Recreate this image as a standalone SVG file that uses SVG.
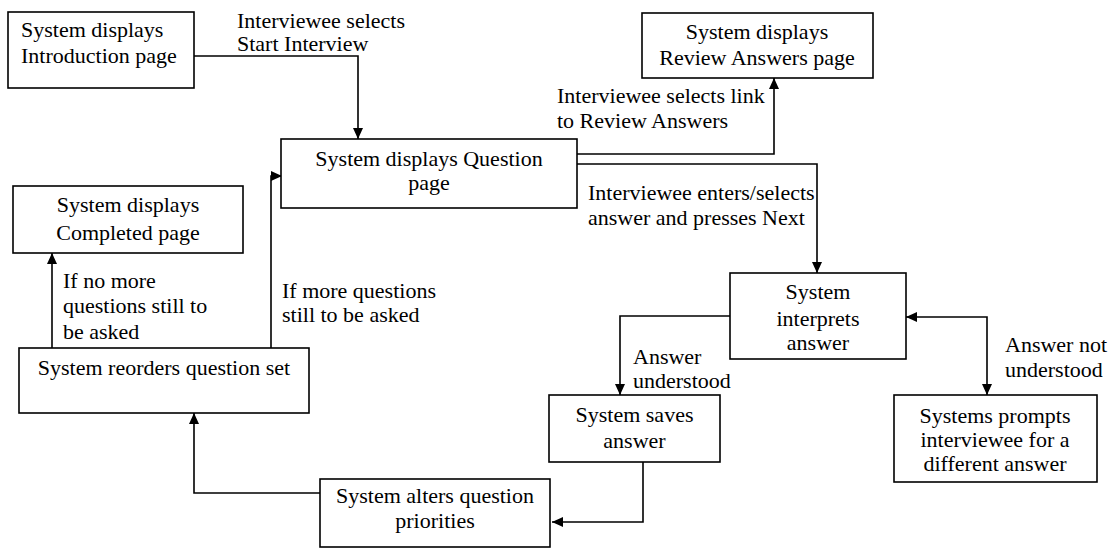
<svg xmlns="http://www.w3.org/2000/svg" width="1117" height="548" viewBox="0 0 1117 548">
<style>
.box{fill:#fff;stroke:#000;stroke-width:1.6}
.ln{fill:none;stroke:#000;stroke-width:1.6;marker-end:url(#ah)}
.ln2{fill:none;stroke:#000;stroke-width:1.6;marker-start:url(#ahs);marker-end:url(#ah)}
text{font-family:"Liberation Serif","Times New Roman",serif;font-size:22px;fill:#000}
.c{text-anchor:middle}
</style>
<defs>
<marker id="ah" markerUnits="userSpaceOnUse" markerWidth="12" markerHeight="12" viewBox="0 0 12 12" refX="11" refY="6" orient="auto">
<path d="M0,1 L11,6 L0,11 Z" fill="#000"/>
</marker>
<marker id="ahs" markerUnits="userSpaceOnUse" markerWidth="12" markerHeight="12" viewBox="0 0 12 12" refX="1" refY="6" orient="auto">
<path d="M12,1 L1,6 L12,11 Z" fill="#000"/>
</marker>
</defs>
<rect width="1117" height="548" fill="#fff"/>
<g id="connectors">
<path class="ln" d="M194,56 H358 V139"/>
<path class="ln" d="M577,154 H774 V78"/>
<path class="ln" d="M577,164 H817 V273"/>
<path class="ln" d="M730,316 H620 V395"/>
<path class="ln2" d="M906,317 H987 V395"/>
<path class="ln" d="M643,462 V522 H552"/>
<path class="ln" d="M320,493 H194 V413"/>
<path class="ln" d="M52,348 V253"/>
<path class="ln" d="M271,348 V176 H282"/>
</g>
<g id="labels">
<text x="237" y="28">Interviewee selects</text>
<text x="237" y="51">Start Interview</text>
<text x="557" y="103">Interviewee selects link</text>
<text x="557" y="128">to Review Answers</text>
<text x="588" y="200">Interviewee enters/selects</text>
<text x="588" y="225">answer and presses Next</text>
<text x="63" y="288">If no more</text>
<text x="63" y="313">questions still to</text>
<text x="63" y="339">be asked</text>
<text x="282" y="298">If more questions</text>
<text x="282" y="322">still to be asked</text>
<text x="633" y="364">Answer</text>
<text x="633" y="388">understood</text>
<text x="1005" y="352">Answer not</text>
<text x="1005" y="377">understood</text>
</g>
<g id="intro">
<rect class="box" x="8" y="12" width="186" height="76"/>
<text x="21" y="37">System displays</text>
<text x="21" y="63">Introduction page</text>
</g>
<g id="review">
<rect class="box" x="642" y="13" width="231" height="65"/>
<text class="c" x="757" y="39">System displays</text>
<text class="c" x="757" y="65">Review Answers page</text>
</g>
<g id="question">
<rect class="box" x="281" y="139" width="296" height="69"/>
<text class="c" x="429" y="166">System displays Question</text>
<text class="c" x="429" y="190">page</text>
</g>
<g id="completed">
<rect class="box" x="13" y="186" width="230" height="67"/>
<text class="c" x="128" y="212">System displays</text>
<text class="c" x="128" y="240">Completed page</text>
</g>
<g id="reorder">
<rect class="box" x="19" y="348" width="290" height="65"/>
<text class="c" x="164" y="375">System reorders question set</text>
</g>
<g id="interprets">
<rect class="box" x="730" y="273" width="176" height="86"/>
<text class="c" x="818" y="299">System</text>
<text class="c" x="818" y="326">interprets</text>
<text class="c" x="818" y="350">answer</text>
</g>
<g id="saves">
<rect class="box" x="549" y="395" width="171" height="67"/>
<text class="c" x="634.5" y="422">System saves</text>
<text class="c" x="634.5" y="448">answer</text>
</g>
<g id="prompts">
<rect class="box" x="894" y="395" width="203" height="87"/>
<text class="c" x="995" y="423">Systems prompts</text>
<text class="c" x="995" y="447">interviewee for a</text>
<text class="c" x="995" y="471">different answer</text>
</g>
<g id="alters">
<rect class="box" x="320" y="479" width="230" height="68"/>
<text class="c" x="435" y="503">System alters question</text>
<text class="c" x="435" y="528">priorities</text>
</g>
</svg>
